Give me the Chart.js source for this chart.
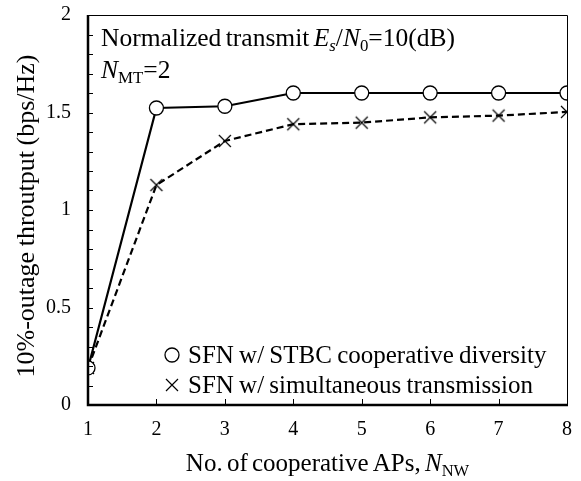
<!DOCTYPE html>
<html>
<head>
<meta charset="utf-8">
<script src="https://cdn.jsdelivr.net/npm/chart.js@4"></script>
<style>
html,body{margin:0;padding:0;background:#fff;}
#wrap{width:581px;height:481px;}
</style>
</head>
<body>
<div id="wrap"><canvas id="c" width="581" height="481"></canvas></div>
<script>
const apCounts = [1, 2, 3, 4, 5, 6, 7, 8];
const stbcThroughput = [0.19, 1.523, 1.532, 1.60, 1.60, 1.60, 1.60, 1.60];
const simulThroughput = [0.19, 1.128, 1.354, 1.44, 1.448, 1.475, 1.484, 1.503];
const yMajorTicks = [0, 0.5, 1, 1.5, 2];
const xTicks = [1, 2, 3, 4, 5, 6, 7, 8];
const seriesLabels = ['SFN w/ STBC cooperative diversity', 'SFN w/ simultaneous transmission'];

const FONT = '"Liberation Serif", "Times New Roman", serif';

function drawRich(ctx, segs, x, y, size, align, ws) {
  const parts = segs.map(s => {
    const st = s[1] || '';
    const italic = st.includes('i');
    const sub = st.includes('sub');
    const sz = sub ? size * 0.66 : size;
    const f = (italic ? 'italic ' : '') + sz + 'px ' + FONT;
    ctx.font = f;
    ctx.wordSpacing = (ws || 0) + 'px';
    return {t: s[0], f, w: ctx.measureText(s[0]).width, dy: sub ? size * 0.2 : 0};
  });
  const total = parts.reduce((a, p) => a + p.w, 0);
  let cx = align === 'center' ? x - total / 2 : x;
  ctx.textAlign = 'left';
  ctx.textBaseline = 'alphabetic';
  for (const p of parts) {
    ctx.font = p.f;
    ctx.wordSpacing = (ws || 0) + 'px';
    ctx.fillText(p.t, cx, y + p.dy);
    cx += p.w;
  }
  ctx.wordSpacing = '0px';
  return total;
}

function drawCross(ctx, x, y, r) {
  ctx.beginPath();
  ctx.moveTo(x - r, y - r); ctx.lineTo(x + r, y + r);
  ctx.moveTo(x - r, y + r); ctx.lineTo(x + r, y - r);
  ctx.stroke();
}

const decor = {
  id: 'decor',
  afterDatasetsDraw(chart) {
    const ctx = chart.ctx;
    const xs = chart.scales.x, ys = chart.scales.y;
    const a = chart.chartArea;
    ctx.save();
    ctx.strokeStyle = '#000';
    ctx.fillStyle = '#000';
    // frame
    ctx.lineWidth = 1;
    ctx.beginPath();
    ctx.moveTo(a.left, a.top + 0.5); ctx.lineTo(a.right + 0.5, a.top + 0.5); ctx.lineTo(a.right + 0.5, a.bottom);
    ctx.stroke();
    ctx.lineWidth = 2.5;
    ctx.beginPath();
    ctx.moveTo(a.left, a.top); ctx.lineTo(a.left, a.bottom); ctx.lineTo(a.right + 1, a.bottom);
    ctx.stroke();
    // y ticks inward (minor every 0.1)
    ctx.lineWidth = 1;
    for (let i = 1; i < 20; i++) {
      const v = i / 10;
      const py = Math.round(ys.getPixelForValue(v)) + 0.5;
      ctx.beginPath(); ctx.moveTo(a.left, py); ctx.lineTo(a.left + 5, py); ctx.stroke();
    }
    // x ticks inward
    for (const v of xTicks.slice(1, -1)) {
      const px = Math.round(xs.getPixelForValue(v)) + 0.5;
      ctx.beginPath(); ctx.moveTo(px, a.bottom); ctx.lineTo(px, a.bottom - 6); ctx.stroke();
    }
    // annotations
    drawRich(ctx, [['Normalized transmit '], ['E', 'i'], ['s', 'i sub'], ['/'], ['N', 'i'], ['0', 'sub'], ['=10(dB)']], a.left + 13, 46, 25.5, 'left', -2);
    drawRich(ctx, [['N', 'i'], ['MT', 'sub'], ['=2']], a.left + 13, 78, 25.5, 'left');
    // legend
    const lx = 172, l1 = 355, l2 = 385;
    ctx.lineWidth = 1.3;
    ctx.fillStyle = '#fff';
    ctx.beginPath(); ctx.arc(lx, l1, 7, 0, Math.PI * 2); ctx.fill(); ctx.stroke();
    ctx.lineWidth = 1.2;
    drawCross(ctx, lx, l2, 6);
    ctx.fillStyle = '#000';
    drawRich(ctx, [[chart.data.datasets[0].label]], 188, 363, 25, 'left', -1);
    drawRich(ctx, [[chart.data.datasets[1].label]], 188, 393, 25, 'left', -1);
    // x title
    drawRich(ctx, [['No. of cooperative APs, '], ['N', 'i'], ['NW', 'sub']], (a.left + a.right) / 2, 471, 25, 'center', -2);
    // y title
    ctx.save();
    ctx.translate(34, 216);
    ctx.rotate(-Math.PI / 2);
    drawRich(ctx, [['10%-outage throutput (bps/Hz)']], 0, 0, 26, 'center', -1);
    ctx.restore();
    ctx.restore();
  }
};

const crossStyle = (() => {
  const c = document.createElement('canvas');
  c.width = 16; c.height = 16;
  const g = c.getContext('2d');
  g.strokeStyle = '#000'; g.lineWidth = 1.2;
  drawCross(g, 8, 8, 6);
  return c;
})();

new Chart(document.getElementById('c'), {
  type: 'line',
  data: {
    datasets: [
      {
        label: seriesLabels[0],
        data: apCounts.map((x, i) => ({x, y: stbcThroughput[i]})),
        borderColor: '#000', borderWidth: 2.2,
        pointStyle: 'circle', pointRadius: 7, pointBackgroundColor: '#fff',
        pointBorderColor: '#000', pointBorderWidth: 1.3, tension: 0, order: 1
      },
      {
        label: seriesLabels[1],
        data: apCounts.map((x, i) => ({x, y: simulThroughput[i]})),
        borderColor: '#000', borderWidth: 2.2, borderDash: [7, 4],
        pointStyle: crossStyle, pointRadius: 8,
        tension: 0, order: 2
      }
    ]
  },
  options: {
    responsive: false,
    animation: false,
    events: [],
    layout: {autoPadding: false, padding: {left: 0, top: 15, right: 14, bottom: 0}},
    plugins: {legend: {display: false}, tooltip: {enabled: false}},
    scales: {
      x: {
        type: 'linear', min: 1, max: 8,
        afterBuildTicks: s => { s.ticks = xTicks.map(v => ({value: v})); },
        grid: {display: false, drawTicks: false},
        border: {display: false},
        ticks: {color: '#000', font: {family: FONT, size: 20}, padding: 13, callback: v => String(v)},
        afterFit: s => { s.height = 76; s.paddingLeft = 0; s.paddingRight = 0; }
      },
      y: {
        type: 'linear', min: 0, max: 2,
        afterBuildTicks: s => { s.ticks = yMajorTicks.map(v => ({value: v})); },
        grid: {display: false, drawTicks: false},
        border: {display: false},
        ticks: {color: '#000', font: {family: FONT, size: 20}, padding: 17, callback: v => String(v)},
        afterFit: s => { s.width = 88; s.paddingTop = 0; s.paddingBottom = 0; }
      }
    }
  },
  plugins: [decor]
});
</script>
</body>
</html>
